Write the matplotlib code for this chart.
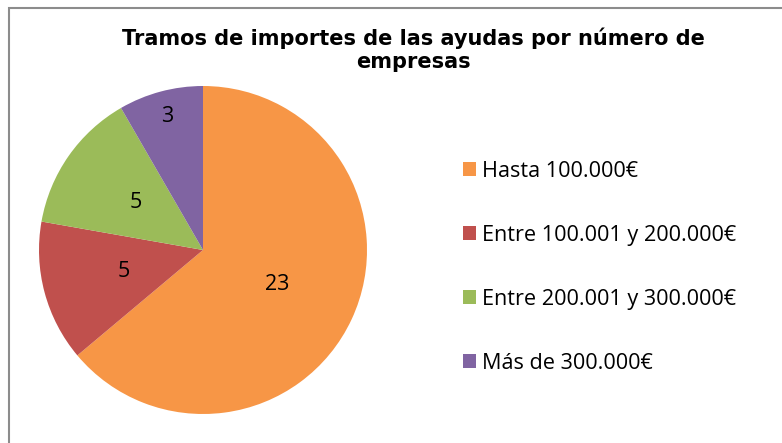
import numpy as np
import matplotlib.pyplot as plt
from matplotlib.patches import Rectangle

# data
labels = ["Hasta 100.000€", "Entre 100.001 y 200.000€",
          "Entre 200.001 y 300.000€", "Más de 300.000€"]
values = [23, 5, 5, 3]
colors = ["#F79646", "#C0504D", "#9BBB59", "#8064A2"]
label_dist = [0.5, 0.5, 0.5, 0.84]
title = "Tramos de importes de las ayudas por número de\nempresas"

W, H = 782, 443
fig = plt.figure(figsize=(W / 100, H / 100), dpi=100)

# chart frame (only top/left visible)
fig.patches.append(Rectangle((9 / W, -0.1), 1.2, 1 - 7.5 / H + 0.1,
                             transform=fig.transFigure, fill=False,
                             edgecolor="#8c8c8c", linewidth=1.5))

cx, cy, r = 203, 250, 164
ax = fig.add_axes([(cx - r) / W, (H - cy - r) / H, 2 * r / W, 2 * r / H])
wedges, texts = ax.pie(values, colors=colors, startangle=90, counterclock=False,
                       radius=1, labels=[str(v) for v in values],
                       labeldistance=0.5,
                       textprops=dict(fontsize=15.5, family="Open Sans",
                                      va="center", ha="center"))
# move labels like excel's best fit
for w, t, d in zip(wedges, texts, label_dist):
    ang = np.deg2rad((w.theta1 + w.theta2) / 2)
    t.set_position((d * np.cos(ang), d * np.sin(ang)))
    t.set_ha("center")
ax.set_xlim(-1, 1)
ax.set_ylim(-1, 1)
ax.set_aspect("equal")
ax.axis("off")

fig.text(413 / W, 1 - 49.5 / H, title, ha="center", va="center",
         fontsize=15, fontweight="bold", family="DejaVu Sans", linespacing=1.2)

fig.legend(wedges, labels, loc="upper left", bbox_to_anchor=(443 / W, 1 - 141.5 / H),
           frameon=False, prop=dict(family="Open Sans", size=15.6),
           handlelength=0.62, handleheight=0.62, handletextpad=0.3,
           labelspacing=1.98)

fig.savefig("out.png", dpi=100)
